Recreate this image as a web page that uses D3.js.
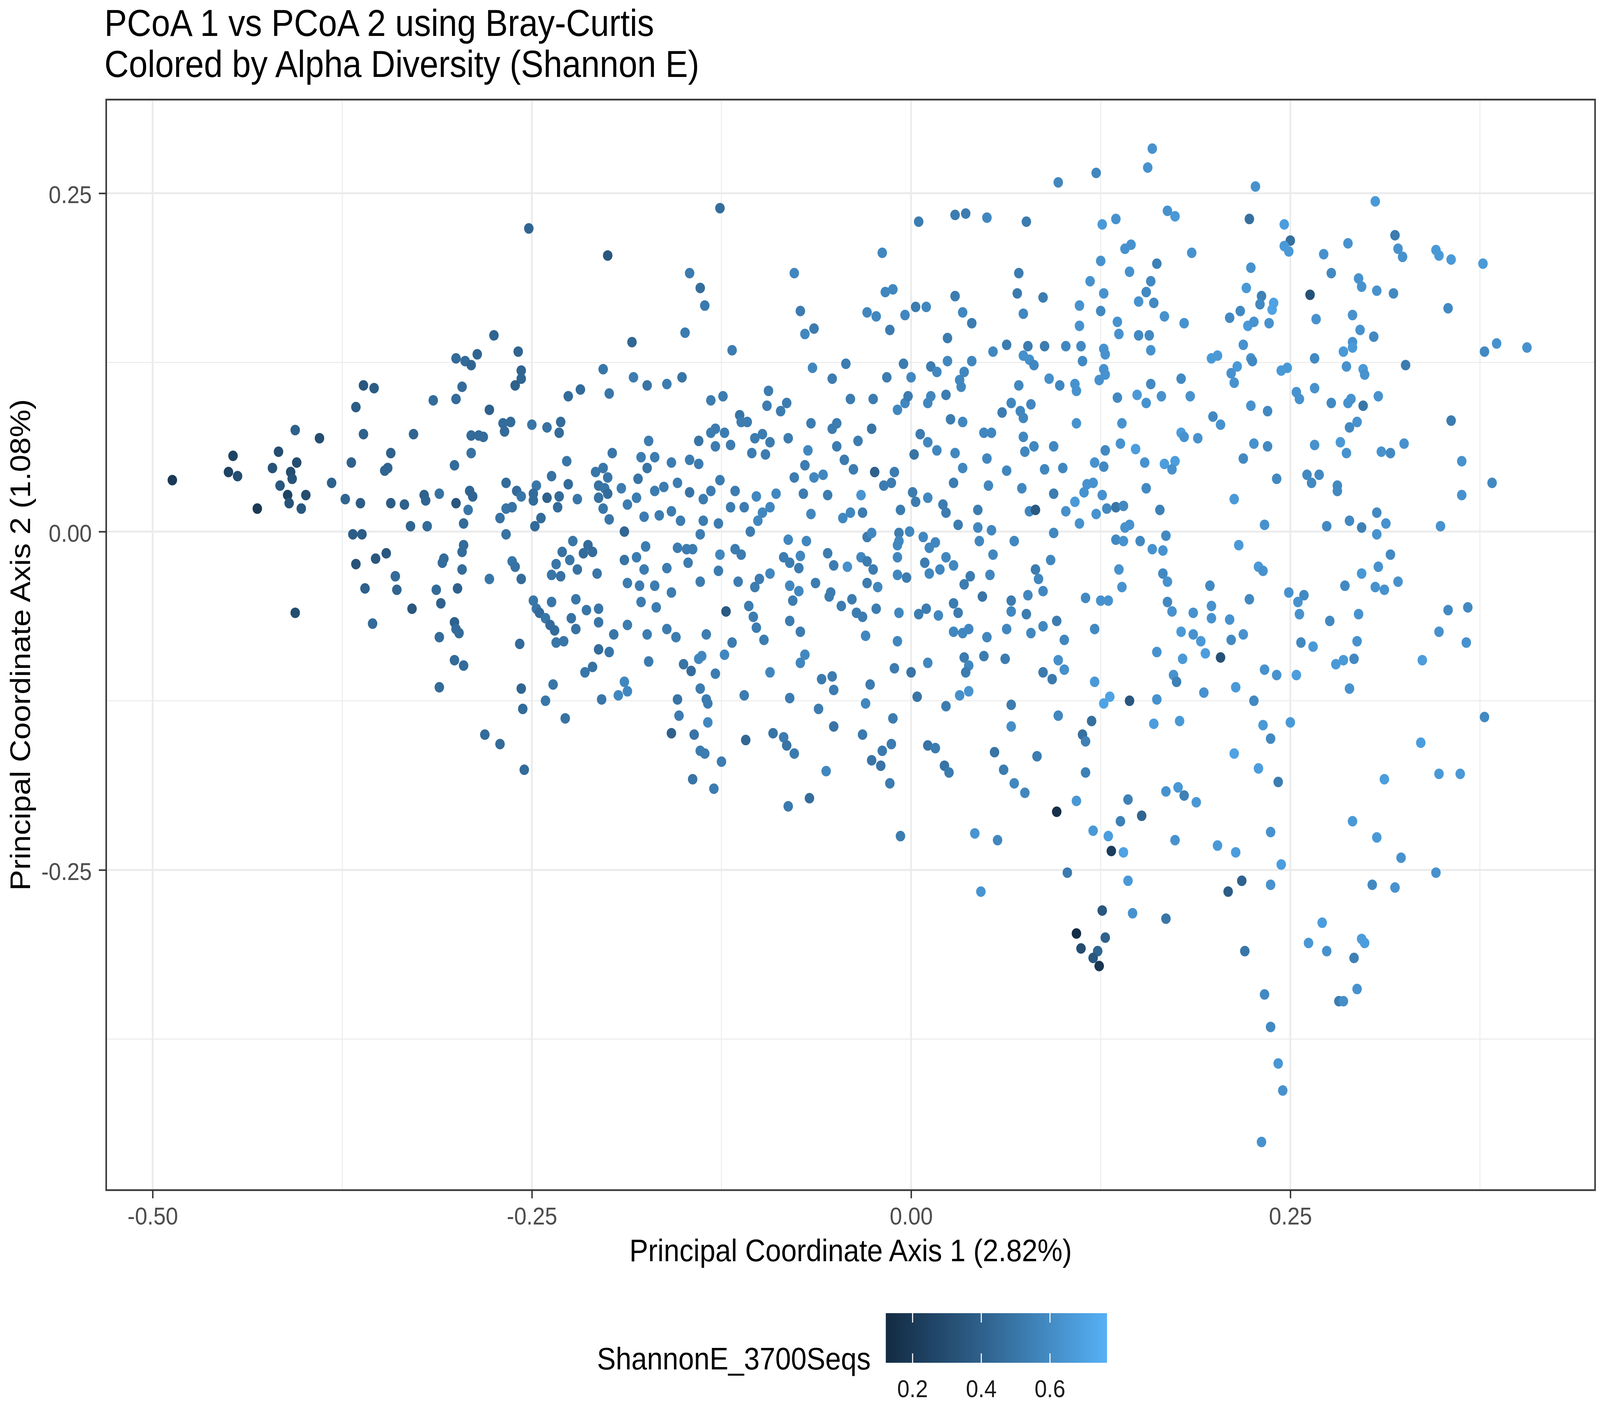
<!DOCTYPE html>
<html>
<head>
<meta charset="utf-8">
<script src="https://cdn.jsdelivr.net/npm/d3@7"></script>
<style>
  html, body { margin: 0; padding: 0; background: #ffffff; width: 100%; height: 100%; overflow: hidden; }
  svg { display: block; width: 100vw; height: 100vh; }
</style>
</head>
<body>
<script>
// ---------------- DATA ----------------
const chartTitleLines = ["PCoA 1 vs PCoA 2 using Bray-Curtis", "Colored by Alpha Diversity (Shannon E)"];
const xAxisTitle = "Principal Coordinate Axis 1 (2.82%)";
const yAxisTitle = "Principal Coordinate Axis 2 (1.08%)";
const legendTitle = "ShannonE_3700Seqs";

const xTicks = [-0.50, -0.25, 0.00, 0.25];
const xTickLabels = ["-0.50", "-0.25", "0.00", "0.25"];
const yTicks = [-0.25, 0.00, 0.25];
const yTickLabels = ["-0.25", "0.00", "0.25"];
const legendTicks = [0.2, 0.4, 0.6];
const legendTickLabels = ["0.2", "0.4", "0.6"];

const xLimits = [-0.5306, 0.4509];
const yLimits = [-0.4866, 0.3192];
const shannonRange = [0.122, 0.766];

// Principal coordinate 1 for each sample
const pc1 = [
// left region
-0.252,-0.200,-0.275,-0.259,-0.300,-0.294,-0.290,-0.286,-0.257,-0.257,
-0.261,-0.296,-0.203,-0.199,-0.226,-0.218,-0.361,-0.354,-0.366,-0.315,
-0.300,-0.278,-0.269,-0.264,-0.268,-0.250,-0.240,-0.231,-0.232,-0.406,
-0.390,-0.361,-0.328,-0.290,-0.285,-0.282,-0.447,-0.417,-0.405,-0.343,
-0.290,-0.301,-0.369,-0.345,-0.347,-0.450,-0.444,-0.487,-0.421,-0.409,
-0.408,-0.227,-0.197,-0.382,-0.416,-0.267,-0.247,-0.237,-0.226,-0.208,
-0.203,-0.200,-0.206,-0.202,-0.411,-0.399,-0.431,-0.410,-0.402,-0.373,
-0.363,-0.343,-0.334,-0.321,-0.320,-0.311,-0.300,-0.291,-0.289,-0.292,
-0.260,-0.257,-0.249,-0.249,-0.240,-0.232,-0.233,-0.220,-0.206,-0.200,
-0.203,-0.199,-0.267,-0.263,-0.271,-0.244,-0.248,-0.295,-0.330,-0.319,
-0.267,-0.368,-0.362,-0.295,-0.296,-0.223,-0.230,-0.213,-0.210,-0.216,
-0.225,-0.220,-0.234,-0.237,-0.231,-0.207,-0.346,-0.353,-0.366,-0.308,
-0.309,-0.263,-0.261,-0.296,-0.278,-0.257,-0.340,-0.360,-0.339,-0.313,
-0.299,-0.310,-0.329,-0.249,-0.247,-0.245,-0.237,-0.241,-0.238,-0.235,
-0.221,-0.214,-0.206,-0.224,-0.206,-0.221,-0.406,-0.355,-0.301,-0.300,
-0.298,-0.311,-0.258,-0.234,-0.229,-0.196,-0.206,-0.199,-0.301,-0.295,
-0.215,-0.210,-0.311,-0.257,-0.236,-0.241,-0.204,-0.256,-0.281,-0.271,
-0.255,-0.228,
// centre region, upper
0.097,-0.126,0.005,0.029,0.036,0.050,0.076,-0.019,-0.146,-0.077,
-0.139,-0.136,-0.017,-0.012,0.071,0.070,0.087,0.029,-0.073,-0.029,
-0.023,-0.004,0.003,0.010,0.034,0.040,0.074,-0.149,-0.070,-0.064,
-0.014,-0.184,-0.118,0.024,0.054,0.063,0.077,0.074,0.078,0.081,
0.088,0.102,0.024,0.040,-0.065,-0.043,-0.005,0.013,0.017,0.035,
0.032,0.033,-0.016,0.000,-0.052,-0.183,-0.174,-0.161,-0.151,0.071,
0.091,0.098,-0.094,-0.095,-0.086,-0.082,-0.132,-0.124,-0.040,-0.025,
-0.009,-0.004,-0.002,0.011,0.013,0.023,0.060,0.066,0.072,0.079,
0.074,-0.113,-0.112,-0.108,-0.132,-0.129,-0.123,-0.140,-0.129,-0.119,
-0.103,-0.098,-0.093,-0.081,-0.173,-0.066,-0.052,-0.049,-0.026,-0.035,
0.026,0.034,0.006,0.011,0.048,0.053,0.074,
-0.105,-0.096,-0.068,-0.070,-0.049,-0.044,-0.038,0.002,0.017,0.029,
0.034,0.050,0.075,0.081,0.094,-0.178,-0.169,-0.174,-0.158,-0.146,
-0.140,-0.077,-0.064,-0.058,-0.024,-0.011,0.063,0.088,0.100,-0.180,
-0.191,-0.169,-0.163,-0.154,-0.146,-0.137,-0.132,-0.126,-0.116,-0.181,
-0.187,-0.102,-0.089,-0.071,-0.055,-0.033,-0.018,-0.013,0.001,0.003,
0.011,0.021,0.028,0.051,0.073,0.094,
-0.176,-0.166,-0.158,-0.152,-0.137,-0.127,-0.119,-0.110,-0.098,-0.101,
-0.106,-0.093,-0.066,-0.045,-0.040,-0.032,-0.007,0.023,0.031,0.044,
0.044,0.053,0.078,0.082,0.102,0.094,-0.189,-0.139,-0.081,-0.069,
-0.029,-0.026,-0.008,-0.008,-0.009,-0.001,0.008,0.016,0.012,0.068,
-0.175,-0.154,-0.148,-0.144,-0.189,-0.181,-0.147,-0.126,-0.116,-0.112,
-0.084,-0.080,-0.073,-0.055,-0.033,-0.029,-0.009,0.009,0.023,0.028,
0.054,0.092,0.045,-0.176,-0.161,-0.127,-0.093,-0.100,-0.074,-0.051,
-0.042,-0.025,-0.009,-0.003,0.012,0.019,0.039,0.035,0.052,0.082,
0.084,0.087,-0.187,-0.179,-0.169,-0.158,-0.139,-0.114,-0.103,-0.080,
-0.074,-0.063,-0.053,-0.029,-0.022,-0.178,-0.168,-0.122,-0.107,-0.104,
-0.102,-0.078,-0.080,-0.073,-0.054,-0.046,-0.039,-0.036,-0.032,-0.023,
-0.008,0.005,0.010,0.018,0.028,0.031,0.047,0.066,0.066,0.076,
0.077,0.096,0.087,0.079,0.063,0.050,0.028,0.034,0.038,-0.030,
-0.009,-0.097,-0.187,-0.174,-0.161,-0.155,-0.135,-0.118,0.101,
// centre region, lower
-0.173,-0.150,-0.145,-0.140,-0.138,-0.123,-0.129,-0.189,-0.187,-0.193,
-0.154,-0.153,-0.139,-0.135,-0.134,-0.134,-0.158,-0.143,-0.139,-0.136,
-0.125,-0.144,-0.130,-0.110,-0.109,-0.093,-0.080,-0.073,-0.070,-0.091,
-0.084,-0.082,-0.077,-0.059,-0.052,-0.051,-0.061,-0.051,-0.056,-0.081,
-0.067,-0.027,-0.030,-0.032,-0.019,-0.013,-0.026,-0.020,-0.014,-0.012,
-0.011,0.000,0.011,0.004,0.023,0.035,0.038,0.036,0.032,0.038,
0.048,0.062,0.011,0.016,0.022,0.025,0.066,0.066,0.055,0.061,
0.068,0.075,0.083,0.097,0.087,0.093,0.097,0.101,0.096,-0.007,
0.042,0.057,0.103,0.046,
// right region, upper
0.159,0.156,0.122,0.227,0.306,0.169,0.174,0.135,0.126,0.223,
0.246,0.250,0.246,0.249,0.319,0.321,0.324,0.346,0.348,0.356,
0.377,0.288,0.272,0.141,0.145,0.185,0.125,0.162,0.144,0.158,
0.155,0.118,0.127,0.150,0.160,0.111,0.125,0.136,0.167,0.180,
0.277,0.295,0.297,0.307,0.318,0.263,0.224,0.221,0.231,0.230,
0.239,0.238,0.217,0.210,0.222,0.226,0.236,0.354,0.267,0.291,
0.111,0.137,0.150,0.157,0.112,0.127,0.128,0.158,0.113,0.219,
0.224,0.225,0.296,0.305,0.291,0.291,0.285,0.378,0.386,0.406,
0.198,0.202,0.266,0.326,0.287,0.298,0.299,0.211,0.215,0.213,
0.127,0.128,0.124,0.108,0.109,0.244,0.248,0.254,0.256,0.266,
0.158,0.178,0.149,0.155,0.136,0.165,0.184,0.224,0.235,0.277,
0.288,0.290,0.298,0.308,0.356,0.109,0.139,0.199,0.204,0.178,
0.180,0.189,0.289,0.294,0.138,0.148,0.128,0.226,0.235,0.266,
0.283,0.287,0.310,0.316,0.325,0.121,0.127,0.154,0.167,0.174,
0.172,0.219,0.363,0.383,0.363,0.241,0.261,0.269,0.264,0.281,
0.281,0.116,0.120,0.114,0.108,0.126,0.155,0.213,0.122,0.129,
0.135,0.140,0.111,0.141,0.144,0.164,0.233,0.274,0.289,0.297,
0.307,0.313,0.307,0.349,0.135,0.140,0.151,0.168,0.216,0.159,
0.166,0.316,0.137,0.166,0.169,0.139,0.229,0.232,0.297,0.308,
0.306,0.312,0.321,0.286,0.197,0.115,0.125,0.130,0.169,0.172,
0.186,0.198,0.198,0.210,0.223,0.249,0.259,0.255,0.256,0.276,
0.295,0.354,0.367,0.348,0.121,0.178,0.186,0.219,0.191,0.211,
0.257,0.294,0.366,
// right region, lower
0.162,0.179,0.194,0.204,0.292,0.285,0.280,0.337,0.265,0.121,
0.127,0.131,0.144,0.162,0.173,0.175,0.193,0.214,0.226,0.233,
0.241,0.254,0.289,0.119,0.113,0.115,0.160,0.177,0.232,0.237,
0.250,0.378,0.336,0.213,0.229,0.242,0.115,0.312,0.348,0.362,
0.109,0.143,0.168,0.176,0.180,0.188,0.152,0.138,0.120,0.130,
0.132,0.140,0.174,0.202,0.214,0.237,0.291,0.307,0.323,0.244,
0.346,0.143,0.218,0.209,0.237,0.304,0.319,0.126,0.146,0.168,
0.109,0.128,0.112,0.123,0.120,0.124,0.220,0.271,0.262,0.274,
0.297,0.299,0.292,0.294,0.233,0.282,0.285,0.237,0.242,0.245,
0.231
];

// Principal coordinate 2 for each sample
const pc2 = [
// left region
0.224,0.204,0.145,0.133,0.128,0.126,0.123,0.131,0.119,0.113,
0.108,0.107,0.120,0.102,0.100,0.105,0.108,0.106,0.092,0.097,
0.098,0.090,0.080,0.081,0.074,0.079,0.077,0.081,0.073,0.075,
0.069,0.072,0.072,0.071,0.071,0.070,0.056,0.059,0.051,0.058,
0.058,0.049,0.051,0.047,0.045,0.044,0.041,0.038,0.047,0.044,
0.039,0.052,0.058,0.036,0.034,0.036,0.034,0.041,0.035,0.044,
0.047,0.040,0.034,0.032,0.027,0.027,0.017,0.021,0.017,0.024,
0.021,0.021,0.020,0.027,0.023,0.028,0.021,0.030,0.026,0.016,
0.030,0.026,0.028,0.023,0.025,0.026,0.018,0.024,0.025,0.028,
0.017,0.009,0.017,0.018,0.010,0.010,0.004,0.006,0.004,0.004,
-0.002,-0.002,-0.002,-0.010,-0.015,-0.007,-0.015,-0.010,-0.015,-0.016,
-0.021,-0.028,-0.024,-0.032,-0.033,-0.031,-0.016,-0.020,-0.024,-0.020,
-0.023,-0.022,-0.026,-0.028,-0.035,-0.035,-0.033,-0.042,-0.043,-0.043,
-0.042,-0.053,-0.057,-0.051,-0.057,-0.060,-0.052,-0.064,-0.069,-0.073,
-0.050,-0.058,-0.057,-0.064,-0.067,-0.072,-0.060,-0.068,-0.067,-0.072,
-0.075,-0.078,-0.083,-0.082,-0.081,-0.076,-0.087,-0.089,-0.095,-0.099,
-0.104,-0.100,-0.115,-0.116,-0.113,-0.125,-0.124,-0.131,-0.150,-0.157,
-0.176,-0.138,
// centre region, upper
0.258,0.239,0.229,0.234,0.235,0.232,0.229,0.206,0.191,0.191,
0.180,0.167,0.177,0.179,0.191,0.176,0.173,0.174,0.163,0.162,
0.159,0.160,0.166,0.166,0.162,0.154,0.161,0.147,0.146,0.150,
0.149,0.140,0.134,0.143,0.133,0.138,0.137,0.130,0.127,0.123,
0.137,0.137,0.126,0.126,0.121,0.124,0.124,0.122,0.118,0.118,
0.112,0.107,0.114,0.114,0.113,0.114,0.108,0.109,0.114,0.108,
0.113,0.108,0.104,0.093,0.089,0.095,0.097,0.100,0.098,0.098,
0.090,0.095,0.100,0.095,0.100,0.101,0.088,0.095,0.089,0.094,
0.084,0.086,0.081,0.081,0.073,0.076,0.073,0.067,0.063,0.064,
0.069,0.072,0.066,0.069,0.067,0.080,0.076,0.080,0.076,0.067,
0.083,0.081,0.072,0.066,0.073,0.073,0.070,
0.058,0.057,0.060,0.049,0.063,0.053,0.046,0.057,0.060,0.058,
0.047,0.054,0.059,0.063,0.063,0.055,0.055,0.047,0.051,0.053,
0.050,0.040,0.040,0.042,0.044,0.044,0.045,0.046,0.047,0.039,
0.032,0.030,0.033,0.036,0.029,0.024,0.030,0.038,0.030,0.025,
0.020,0.026,0.028,0.028,0.027,0.027,0.034,0.036,0.029,0.022,
0.025,0.020,0.036,0.034,0.032,0.028,
0.011,0.012,0.015,0.008,0.008,0.006,0.018,0.018,0.014,0.008,
0.000,0.018,0.013,0.010,0.014,0.014,0.016,0.014,0.005,0.016,
0.003,0.001,0.015,0.016,0.015,-0.001,0.000,-0.002,-0.006,-0.007,
-0.004,-0.001,-0.001,-0.007,-0.010,0.000,-0.004,-0.008,-0.012,-0.007,
-0.011,-0.012,-0.013,-0.013,-0.021,-0.019,-0.023,-0.017,-0.013,-0.017,
-0.019,-0.023,-0.018,-0.016,-0.019,-0.022,-0.019,-0.023,-0.019,-0.025,
-0.017,-0.021,-0.007,-0.028,-0.027,-0.029,-0.031,-0.035,-0.027,-0.025,
-0.026,-0.028,-0.032,-0.034,-0.031,-0.028,-0.033,-0.039,-0.032,-0.028,
-0.035,-0.044,-0.038,-0.040,-0.040,-0.045,-0.037,-0.037,-0.041,-0.040,
-0.044,-0.038,-0.045,-0.038,-0.041,-0.052,-0.056,-0.059,-0.055,-0.063,
-0.071,-0.051,-0.066,-0.074,-0.048,-0.055,-0.050,-0.060,-0.063,-0.057,
-0.060,-0.061,-0.057,-0.062,-0.053,-0.060,-0.048,-0.051,-0.059,-0.061,
-0.047,-0.066,-0.070,-0.075,-0.072,-0.078,-0.074,-0.075,-0.072,-0.077,
-0.081,-0.080,-0.069,-0.076,-0.072,-0.078,-0.076,-0.082,-0.080,
// centre region, lower
-0.096,-0.098,-0.103,-0.094,-0.092,-0.091,-0.105,-0.111,-0.118,-0.121,
-0.124,-0.136,-0.116,-0.124,-0.127,-0.141,-0.149,-0.150,-0.162,-0.164,
-0.170,-0.183,-0.190,-0.121,-0.154,-0.104,-0.123,-0.097,-0.091,-0.149,
-0.152,-0.158,-0.164,-0.109,-0.107,-0.117,-0.131,-0.144,-0.177,-0.203,
-0.197,-0.113,-0.127,-0.150,-0.162,-0.157,-0.169,-0.173,-0.186,-0.138,
-0.101,-0.104,-0.097,-0.122,-0.129,-0.093,-0.099,-0.104,-0.121,-0.118,
-0.092,-0.094,-0.158,-0.160,-0.173,-0.178,-0.128,-0.144,-0.163,-0.176,
-0.186,-0.193,-0.166,-0.136,-0.104,-0.109,-0.095,-0.102,-0.207,-0.225,
-0.223,-0.228,-0.252,-0.266,
// right region, upper
0.283,0.269,0.265,0.255,0.244,0.237,0.233,0.231,0.227,0.231,
0.227,0.215,0.211,0.207,0.219,0.209,0.203,0.208,0.204,0.201,
0.198,0.213,0.205,0.209,0.212,0.206,0.200,0.198,0.192,0.185,
0.177,0.185,0.176,0.170,0.169,0.167,0.163,0.155,0.159,0.154,
0.191,0.187,0.181,0.178,0.176,0.175,0.195,0.180,0.174,0.168,
0.169,0.164,0.163,0.158,0.152,0.155,0.154,0.165,0.157,0.160,
0.152,0.146,0.145,0.145,0.137,0.135,0.131,0.134,0.126,0.138,
0.128,0.126,0.149,0.144,0.140,0.136,0.133,0.133,0.139,0.136,
0.128,0.130,0.128,0.123,0.122,0.120,0.116,0.117,0.122,0.110,
0.120,0.116,0.112,0.109,0.104,0.119,0.121,0.103,0.098,0.106,
0.109,0.113,0.101,0.095,0.099,0.100,0.100,0.093,0.089,0.095,
0.095,0.098,0.093,0.100,0.082,0.080,0.080,0.085,0.079,0.073,
0.070,0.069,0.077,0.081,0.065,0.061,0.060,0.065,0.063,0.064,
0.066,0.058,0.059,0.058,0.065,0.051,0.048,0.051,0.050,0.052,
0.046,0.054,0.052,0.036,0.027,0.039,0.042,0.042,0.036,0.034,
0.030,0.035,0.036,0.029,0.022,0.027,0.032,0.024,0.013,0.017,
0.018,0.019,0.006,0.003,0.005,0.016,0.005,0.004,0.008,0.003,
0.014,0.006,-0.002,0.004,-0.006,-0.007,-0.007,-0.003,-0.010,-0.013,
-0.014,-0.017,-0.028,-0.031,-0.037,-0.041,-0.026,-0.029,-0.031,-0.026,
-0.041,-0.043,-0.037,-0.040,-0.040,-0.049,-0.051,-0.051,-0.052,-0.059,
-0.060,-0.055,-0.064,-0.065,-0.050,-0.045,-0.047,-0.052,-0.061,-0.066,
-0.061,-0.058,-0.056,-0.074,-0.072,-0.074,-0.076,-0.076,-0.081,-0.080,
-0.082,-0.081,-0.082,
// right region, lower
-0.089,-0.094,-0.090,-0.093,-0.094,-0.095,-0.098,-0.095,-0.085,-0.111,
-0.127,-0.122,-0.125,-0.124,-0.106,-0.111,-0.119,-0.115,-0.125,-0.102,
-0.106,-0.106,-0.116,-0.140,-0.150,-0.155,-0.142,-0.140,-0.143,-0.153,
-0.141,-0.137,-0.156,-0.164,-0.175,-0.185,-0.178,-0.183,-0.179,-0.179,
-0.199,-0.198,-0.192,-0.189,-0.195,-0.200,-0.210,-0.214,-0.221,-0.225,
-0.236,-0.237,-0.228,-0.232,-0.237,-0.222,-0.214,-0.226,-0.241,-0.246,
-0.252,-0.258,-0.258,-0.266,-0.261,-0.261,-0.263,-0.280,-0.282,-0.286,
-0.297,-0.300,-0.308,-0.310,-0.315,-0.321,-0.310,-0.289,-0.304,-0.310,
-0.301,-0.304,-0.315,-0.338,-0.342,-0.347,-0.347,-0.366,-0.393,-0.413,
-0.451
];

// Shannon evenness (colour) for each sample
const shannonE = [
// left region
0.42,0.35,0.42,0.42,0.45,0.45,0.42,0.42,0.42,0.42,
0.40,0.45,0.50,0.50,0.45,0.45,0.35,0.38,0.38,0.45,
0.45,0.40,0.45,0.45,0.45,0.50,0.48,0.45,0.45,0.40,
0.30,0.40,0.42,0.45,0.45,0.45,0.25,0.30,0.30,0.40,
0.48,0.45,0.40,0.42,0.42,0.25,0.30,0.20,0.33,0.30,
0.33,0.50,0.50,0.40,0.35,0.45,0.50,0.48,0.45,0.50,
0.50,0.50,0.48,0.50,0.25,0.30,0.20,0.33,0.35,0.42,
0.38,0.38,0.40,0.40,0.42,0.48,0.35,0.42,0.42,0.50,
0.45,0.50,0.45,0.45,0.40,0.45,0.45,0.50,0.48,0.45,
0.50,0.50,0.50,0.48,0.48,0.45,0.45,0.45,0.42,0.45,
0.48,0.38,0.38,0.45,0.45,0.50,0.48,0.45,0.45,0.45,
0.50,0.48,0.50,0.50,0.48,0.50,0.35,0.35,0.33,0.45,
0.45,0.50,0.48,0.45,0.50,0.45,0.45,0.40,0.42,0.45,
0.40,0.40,0.35,0.50,0.50,0.45,0.50,0.50,0.45,0.45,
0.50,0.50,0.50,0.48,0.50,0.48,0.30,0.45,0.40,0.45,
0.45,0.45,0.45,0.50,0.50,0.50,0.45,0.50,0.45,0.45,
0.50,0.48,0.45,0.42,0.50,0.50,0.50,0.45,0.45,0.45,
0.45,0.48,
// centre region, upper
0.58,0.46,0.53,0.53,0.53,0.58,0.53,0.58,0.53,0.58,
0.46,0.52,0.58,0.58,0.53,0.52,0.53,0.53,0.53,0.58,
0.58,0.58,0.53,0.58,0.58,0.53,0.58,0.53,0.58,0.53,
0.53,0.43,0.53,0.53,0.58,0.53,0.53,0.62,0.62,0.58,
0.53,0.58,0.58,0.58,0.58,0.53,0.53,0.53,0.58,0.58,
0.58,0.58,0.53,0.58,0.53,0.53,0.49,0.53,0.49,0.58,
0.62,0.58,0.53,0.53,0.53,0.53,0.53,0.53,0.53,0.53,
0.58,0.58,0.53,0.58,0.58,0.53,0.53,0.58,0.58,0.58,
0.58,0.49,0.53,0.53,0.53,0.53,0.53,0.49,0.53,0.53,
0.53,0.53,0.53,0.53,0.53,0.53,0.53,0.53,0.49,0.53,
0.53,0.58,0.53,0.58,0.58,0.58,0.58,
0.53,0.53,0.58,0.53,0.53,0.53,0.53,0.49,0.58,0.58,
0.58,0.58,0.58,0.58,0.58,0.53,0.53,0.49,0.53,0.53,
0.53,0.53,0.58,0.58,0.40,0.53,0.58,0.58,0.58,0.49,
0.53,0.53,0.53,0.53,0.49,0.53,0.53,0.53,0.53,0.53,
0.53,0.58,0.58,0.53,0.53,0.64,0.53,0.53,0.53,0.53,
0.58,0.53,0.53,0.58,0.58,0.53,
0.53,0.53,0.53,0.53,0.53,0.53,0.53,0.53,0.58,0.58,
0.53,0.58,0.58,0.58,0.58,0.53,0.53,0.53,0.53,0.53,
0.58,0.58,0.58,0.36,0.62,0.58,0.43,0.53,0.58,0.58,
0.53,0.58,0.53,0.58,0.58,0.58,0.58,0.58,0.58,0.58,
0.53,0.53,0.53,0.53,0.49,0.53,0.53,0.58,0.53,0.53,
0.53,0.53,0.58,0.53,0.58,0.53,0.58,0.53,0.58,0.58,
0.58,0.58,0.58,0.53,0.53,0.53,0.58,0.53,0.53,0.53,
0.62,0.53,0.58,0.53,0.58,0.58,0.53,0.53,0.58,0.53,
0.58,0.58,0.53,0.53,0.53,0.53,0.53,0.53,0.53,0.58,
0.58,0.53,0.53,0.53,0.58,0.53,0.53,0.36,0.53,0.53,
0.53,0.53,0.53,0.53,0.53,0.53,0.53,0.53,0.53,0.53,
0.58,0.53,0.53,0.58,0.53,0.53,0.49,0.53,0.58,0.53,
0.58,0.53,0.58,0.58,0.58,0.58,0.58,0.58,0.58,0.58,
0.58,0.53,0.53,0.53,0.53,0.53,0.53,0.53,0.58,
// centre region, lower
0.52,0.49,0.46,0.58,0.58,0.58,0.53,0.58,0.58,0.58,
0.49,0.53,0.53,0.53,0.53,0.58,0.40,0.49,0.53,0.53,
0.53,0.49,0.53,0.53,0.43,0.58,0.53,0.58,0.58,0.49,
0.53,0.49,0.52,0.52,0.53,0.53,0.53,0.49,0.58,0.52,
0.46,0.53,0.58,0.52,0.52,0.53,0.49,0.49,0.53,0.53,
0.53,0.49,0.58,0.49,0.53,0.53,0.58,0.53,0.62,0.64,
0.53,0.53,0.49,0.53,0.49,0.53,0.53,0.61,0.49,0.53,
0.58,0.58,0.53,0.58,0.52,0.52,0.62,0.62,0.15,0.53,
0.64,0.58,0.52,0.64,
// right region, upper
0.63,0.63,0.58,0.63,0.66,0.63,0.66,0.63,0.66,0.47,
0.68,0.47,0.66,0.66,0.53,0.63,0.63,0.66,0.66,0.66,
0.66,0.63,0.63,0.63,0.63,0.63,0.63,0.55,0.63,0.59,
0.59,0.63,0.63,0.63,0.59,0.63,0.59,0.63,0.63,0.63,
0.59,0.63,0.63,0.63,0.59,0.32,0.63,0.66,0.55,0.59,
0.70,0.70,0.59,0.59,0.66,0.63,0.63,0.59,0.63,0.63,
0.63,0.63,0.59,0.59,0.59,0.63,0.63,0.63,0.59,0.63,
0.63,0.59,0.63,0.59,0.63,0.66,0.66,0.59,0.63,0.63,
0.66,0.66,0.59,0.53,0.63,0.66,0.63,0.63,0.66,0.63,
0.63,0.63,0.63,0.63,0.63,0.66,0.66,0.63,0.63,0.63,
0.59,0.59,0.66,0.63,0.59,0.63,0.63,0.63,0.59,0.59,
0.63,0.63,0.50,0.63,0.53,0.63,0.63,0.59,0.63,0.68,
0.63,0.63,0.59,0.63,0.63,0.68,0.59,0.63,0.59,0.63,
0.66,0.63,0.63,0.59,0.63,0.63,0.59,0.63,0.68,0.68,
0.63,0.59,0.63,0.59,0.63,0.59,0.59,0.59,0.59,0.59,
0.59,0.63,0.63,0.63,0.66,0.63,0.59,0.66,0.63,0.59,
0.50,0.59,0.63,0.63,0.63,0.55,0.63,0.59,0.59,0.55,
0.59,0.63,0.63,0.63,0.59,0.63,0.59,0.59,0.66,0.63,
0.63,0.59,0.63,0.59,0.63,0.63,0.66,0.63,0.65,0.63,
0.63,0.63,0.63,0.59,0.59,0.59,0.63,0.63,0.59,0.63,
0.63,0.63,0.63,0.63,0.59,0.63,0.59,0.63,0.63,0.59,
0.63,0.59,0.59,0.63,0.59,0.66,0.63,0.63,0.66,0.59,
0.59,0.63,0.63,
// right region, lower
0.63,0.66,0.68,0.32,0.59,0.66,0.66,0.68,0.66,0.66,
0.70,0.70,0.35,0.63,0.63,0.55,0.63,0.66,0.59,0.63,
0.63,0.68,0.63,0.47,0.47,0.55,0.68,0.66,0.66,0.59,
0.66,0.59,0.68,0.70,0.68,0.53,0.55,0.68,0.66,0.66,
0.65,0.55,0.63,0.65,0.55,0.65,0.42,0.55,0.66,0.68,
0.22,0.70,0.63,0.66,0.68,0.63,0.66,0.66,0.63,0.68,
0.63,0.66,0.40,0.38,0.63,0.59,0.63,0.35,0.63,0.50,
0.13,0.40,0.30,0.42,0.35,0.18,0.50,0.68,0.65,0.63,
0.68,0.68,0.55,0.63,0.59,0.53,0.61,0.59,0.65,0.63,
0.63
];

// ---------------- DRAWING ----------------
const W = 4550, H = 3592;
const panel = { left: 302, right: 4536, top: 255, bottom: 3047 };
const FONT = "'Liberation Sans', Arial, Helvetica, sans-serif";

const n = Math.min(pc1.length, pc2.length, shannonE.length);
if (pc1.length !== pc2.length || pc1.length !== shannonE.length) {
  console.warn("array length mismatch", pc1.length, pc2.length, shannonE.length);
}
const samples = d3.range(n).map(i => ({ x: pc1[i], y: pc2[i], s: shannonE[i] }));

const x = d3.scaleLinear().domain(xLimits).range([panel.left, panel.right]);
const y = d3.scaleLinear().domain(yLimits).range([panel.bottom, panel.top]);
const color = d3.scaleLinear().domain(shannonRange)
  .range(["#132B43", "#56B1F7"]).interpolate(d3.interpolateLab).clamp(true);

// Fixed 4550x3592 drawing space stretched to fill the whole viewport.
const svg = d3.select("body").append("svg")
  .attr("viewBox", `0 0 ${W} ${H}`)
  .attr("preserveAspectRatio", "none")
  .style("font-family", FONT);

svg.append("rect").attr("width", W).attr("height", H).attr("fill", "#ffffff");

// minor breaks = midpoints between majors (ggplot default)
function minorBreaks(ticks, lim) {
  const step = ticks[1] - ticks[0];
  const out = [];
  for (let v = ticks[0] - step / 2; v <= lim[1]; v += step) {
    if (v >= lim[0]) out.push(+v.toFixed(6));
  }
  return out;
}
const xMinor = minorBreaks(xTicks, xLimits);
const yMinor = minorBreaks(yTicks, yLimits);

const grid = svg.append("g");
grid.selectAll("line.xminor").data(xMinor).join("line")
  .attr("x1", d => x(d)).attr("x2", d => x(d))
  .attr("y1", panel.top).attr("y2", panel.bottom)
  .attr("stroke", "#ebebeb").attr("stroke-width", 2.5);
grid.selectAll("line.yminor").data(yMinor).join("line")
  .attr("y1", d => y(d)).attr("y2", d => y(d))
  .attr("x1", panel.left).attr("x2", panel.right)
  .attr("stroke", "#ebebeb").attr("stroke-width", 2.5);
grid.selectAll("line.xmajor").data(xTicks).join("line")
  .attr("x1", d => x(d)).attr("x2", d => x(d))
  .attr("y1", panel.top).attr("y2", panel.bottom)
  .attr("stroke", "#ebebeb").attr("stroke-width", 5);
grid.selectAll("line.ymajor").data(yTicks).join("line")
  .attr("y1", d => y(d)).attr("y2", d => y(d))
  .attr("x1", panel.left).attr("x2", panel.right)
  .attr("stroke", "#ebebeb").attr("stroke-width", 5);

// clip
svg.append("clipPath").attr("id", "panelClip").append("rect")
  .attr("x", panel.left).attr("y", panel.top)
  .attr("width", panel.right - panel.left).attr("height", panel.bottom - panel.top);

svg.append("g").attr("clip-path", "url(#panelClip)")
  .selectAll("circle").data(samples).join("circle")
  .attr("cx", d => x(d.x)).attr("cy", d => y(d.y))
  .attr("r", 13.5)
  .attr("fill", d => color(d.s));

// panel border
svg.append("rect")
  .attr("x", panel.left).attr("y", panel.top)
  .attr("width", panel.right - panel.left).attr("height", panel.bottom - panel.top)
  .attr("fill", "none").attr("stroke", "#3a3a3a").attr("stroke-width", 4.5);

// axes
const xAxisG = svg.append("g").attr("transform", `translate(0,${panel.bottom})`)
  .call(d3.axisBottom(x).tickValues(xTicks).tickFormat((d, i) => xTickLabels[i])
    .tickSize(21).tickPadding(22).tickSizeOuter(0));
xAxisG.select(".domain").remove();
xAxisG.selectAll(".tick line").attr("stroke", "#333333").attr("stroke-width", 4);
xAxisG.selectAll(".tick text").attr("fill", "#4d4d4d")
  .style("font-size", "63px").style("font-family", FONT);

const yAxisG = svg.append("g").attr("transform", `translate(${panel.left},0)`)
  .call(d3.axisLeft(y).tickValues(yTicks).tickFormat((d, i) => yTickLabels[i])
    .tickSize(21).tickPadding(20).tickSizeOuter(0));
yAxisG.select(".domain").remove();
yAxisG.selectAll(".tick line").attr("stroke", "#333333").attr("stroke-width", 4);
yAxisG.selectAll(".tick text").attr("fill", "#4d4d4d").attr("dy", "0.4em")
  .style("font-size", "63px").style("font-family", FONT);

// title
svg.append("g").selectAll("text").data(chartTitleLines).join("text")
  .attr("x", 297).attr("y", (d, i) => [92, 197][i])
  .attr("fill", "#000000")
  .style("font-size", "96px")
  .text(d => d);

// axis titles
svg.append("text")
  .attr("x", (panel.left + panel.right) / 2).attr("y", 3229)
  .attr("text-anchor", "middle").attr("fill", "#000000")
  .style("font-size", "80px").text(xAxisTitle);

svg.append("text")
  .attr("transform", `translate(86,${(panel.top + panel.bottom) / 2}) rotate(-90)`)
  .attr("text-anchor", "middle").attr("fill", "#000000")
  .style("font-size", "80px").text(yAxisTitle);

// legend (colourbar)
const bar = { x0: 2519, x1: 3148, y0: 3362, y1: 3489 };
const lx = d3.scaleLinear().domain(shannonRange).range([bar.x0, bar.x1]);

const defs = svg.append("defs");
const grad = defs.append("linearGradient").attr("id", "shannonGrad")
  .attr("x1", "0%").attr("x2", "100%").attr("y1", "0%").attr("y2", "0%");
d3.range(0, 1.0001, 0.05).forEach(t => {
  const v = shannonRange[0] + t * (shannonRange[1] - shannonRange[0]);
  grad.append("stop").attr("offset", `${t * 100}%`).attr("stop-color", color(v));
});

svg.append("rect")
  .attr("x", bar.x0).attr("y", bar.y0)
  .attr("width", bar.x1 - bar.x0).attr("height", bar.y1 - bar.y0)
  .attr("fill", "url(#shannonGrad)");

const lt = svg.append("g");
lt.selectAll("line.top").data(legendTicks).join("line")
  .attr("x1", d => lx(d)).attr("x2", d => lx(d))
  .attr("y1", bar.y0).attr("y2", bar.y0 + 24)
  .attr("stroke", "#ffffff").attr("stroke-width", 3);
lt.selectAll("line.bot").data(legendTicks).join("line")
  .attr("x1", d => lx(d)).attr("x2", d => lx(d))
  .attr("y1", bar.y1 - 24).attr("y2", bar.y1)
  .attr("stroke", "#ffffff").attr("stroke-width", 3);

svg.append("g").selectAll("text").data(legendTicks).join("text")
  .attr("x", d => lx(d)).attr("y", 3577)
  .attr("text-anchor", "middle").attr("fill", "#1a1a1a")
  .style("font-size", "63px")
  .text((d, i) => legendTickLabels[i]);

svg.append("text")
  .attr("x", 2476).attr("y", 3506)
  .attr("text-anchor", "end").attr("fill", "#000000")
  .style("font-size", "80px").text(legendTitle);
</script>
</body>
</html>
